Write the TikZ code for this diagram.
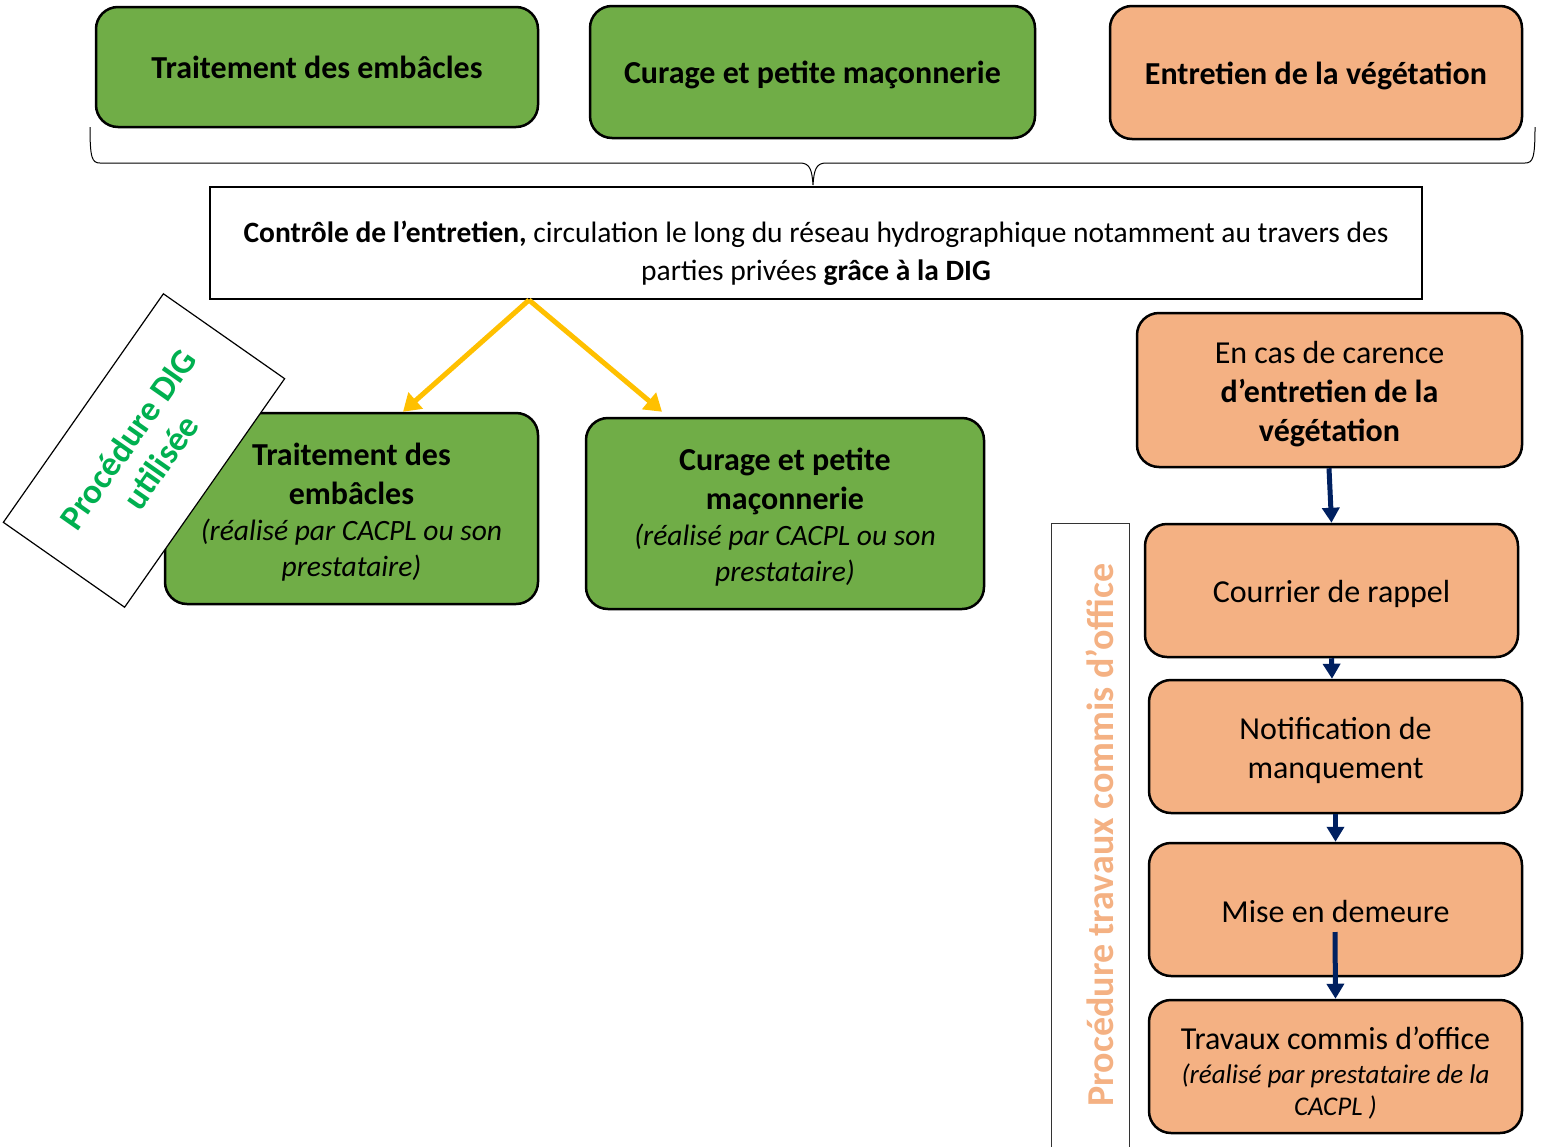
\documentclass[tikz,border=0pt]{standalone}
\usepackage{fontspec}
\setmainfont{Carlito}
\usetikzlibrary{arrows.meta,calc}
\definecolor{vgreen}{HTML}{70AD47}
\definecolor{vorange}{HTML}{F4B183}
\definecolor{dgreen}{HTML}{00B050}
\definecolor{ayellow}{HTML}{FFC000}
\definecolor{dblue}{HTML}{002060}
\newcommand{\fs}[2]{\fontsize{#1}{#2}\selectfont}
\tikzset{
  rbox/.style={draw=black, line width=2.5pt, rounded corners=22pt, inner sep=0pt},
  gbox/.style={rbox, fill=vgreen},
  obox/.style={rbox, fill=vorange},
  txt/.style={align=flush center, inner sep=0pt, text width=#1},
  txt/.default=360pt,
  yarrow/.style={draw=ayellow, line width=5pt, -{Triangle[length=17pt,width=21pt]}},
  barrow/.style={draw=dblue, line width=5pt, -{Triangle[length=15pt,width=17pt]}},
}
\begin{document}
\begin{tikzpicture}[x=1pt,y=-1pt]
\useasboundingbox (0,0) rectangle (1542,1146);
% top row
\node[gbox, minimum width=442pt, minimum height=120pt] (t1) at (317,67) {};
\node[txt=430pt, font=\bfseries\fs{32}{39}] (t1txt) at (t1.center) {Traitement des embâcles\par};
\node[gbox, minimum width=445pt, minimum height=132pt] (t2) at (812.5,72) {};
\node[txt=430pt, font=\bfseries\fs{32}{39}] (t2txt) at ([yshift=-3pt]t2.center) {Curage et petite maçonnerie\par};
\node[obox, minimum width=412pt, minimum height=133pt] (t3) at (1316,72.5) {};
\node[txt=400pt, font=\bfseries\fs{32}{39}] (t3txt) at ([yshift=-3pt]t3.center) {Entretien de la végétation\par};
% brace
\draw[line width=1pt] (90,127) .. controls (90,158) and (92,163) .. (100,163) -- (800,163)
  .. controls (810,163) and (812,170) .. (813,185) .. controls (814,170) and (816,163) .. (826,163)
  -- (1525,163) .. controls (1533,163) and (1535,158) .. (1535,127);
% control box
\node[draw=black, line width=1.5pt, fill=white, minimum width=1212pt, minimum height=112pt, inner sep=0pt] (ctrl) at (816,243) {};
\node[txt=1200pt, font=\fs{29.5}{38}] (ctrltxt) at ([yshift=-10pt]ctrl.center)
 {\textbf{Contrôle de l’entretien,} circulation le long du réseau hydrographique notamment au travers des\\ parties privées \textbf{grâce à la DIG}\par};
% lower green boxes
\node[gbox, minimum width=373pt, minimum height=191pt] (g1) at (351.5,508.5) {};
\node[txt] (g1txt) at ([yshift=-4pt]g1.center)
 {\bfseries\fs{32}{39}Traitement des\\embâcles\par\mdseries\itshape\fs{29.5}{36}(réalisé par CACPL ou son\\prestataire)\par};
\node[gbox, minimum width=398pt, minimum height=191pt] (g2) at (785,513.5) {};
\node[txt=380pt] (g2txt) at ([yshift=-4pt]g2.center)
 {\bfseries\fs{32}{39}Curage et petite\\maçonnerie\par\mdseries\itshape\fs{29.5}{36}(réalisé par CACPL ou son\\prestataire)\par};
% rotated DIG box
\node[draw=black, line width=1.2pt, fill=white, rotate=55, minimum width=279pt, minimum height=148pt, align=flush center, inner sep=0pt, text width=270pt, text=dgreen, font=\bfseries\fs{35}{40}] (dig) at (144,450.5) {Procédure DIG\\utilisée\par};
% yellow arrows
\coordinate (ys) at (529,300);
\draw[yarrow] (ys) -- ([xshift=51.5pt]g1.north);
\draw[yarrow] (ys) -- ([xshift=-123pt,yshift=5pt]g2.north);
% right column
\node[obox, minimum width=385pt, minimum height=154pt] (o1) at (1329.5,390) {};
\node[txt=370pt, font=\fs{32}{39}] (o1txt) at ([yshift=-4pt]o1.center)
 {En cas de carence\\\textbf{d’entretien de la}\\\textbf{végétation}\par};
\node[obox, minimum width=373pt, minimum height=133pt] (o2) at (1331.5,590.5) {};
\node[txt, font=\fs{32}{39}] (o2txt) at ([yshift=-3pt]o2.center) {Courrier de rappel\par};
\node[obox, minimum width=373pt, minimum height=133pt] (o3) at (1335.5,746.5) {};
\node[txt, font=\fs{32}{39}] (o3txt) at ([yshift=-4pt]o3.center) {Notification de\\manquement\par};
\node[obox, minimum width=373pt, minimum height=133pt] (o4) at (1335.5,909.5) {};
\node[txt, font=\fs{32}{39}] (o4txt) at ([yshift=-2pt]o4.center) {Mise en demeure\par};
\node[obox, minimum width=373pt, minimum height=133pt] (o5) at (1335.5,1066.5) {};
\node[txt] (o5txt) at ([yshift=-6.5pt]o5.center)
 {\fs{32}{36}Travaux commis d’office\par\vspace{2pt}\itshape\fs{27}{32}(réalisé par prestataire de la\\CACPL )\par};
% procedure box
\draw[line width=1pt, draw=black!80] (1051,1150) -- (1051,523) -- (1129,523) -- (1129,1150);
\node[rotate=90, text=vorange, font=\bfseries\fs{38}{44}] (ptco) at (1100,835) {Procédure travaux commis d’office};
% blue arrows
\draw[barrow] ([xshift=-0.5pt]o1.south) -- (o2.north);
\draw[barrow] (o2.south) -- ([xshift=-3.5pt]o3.north);
\draw[barrow] (o3.south) -- (o4.north);
\coordinate (ms) at (1335,932);
\draw[barrow] (ms) -- (o5.north);
\end{tikzpicture}
\end{document}
